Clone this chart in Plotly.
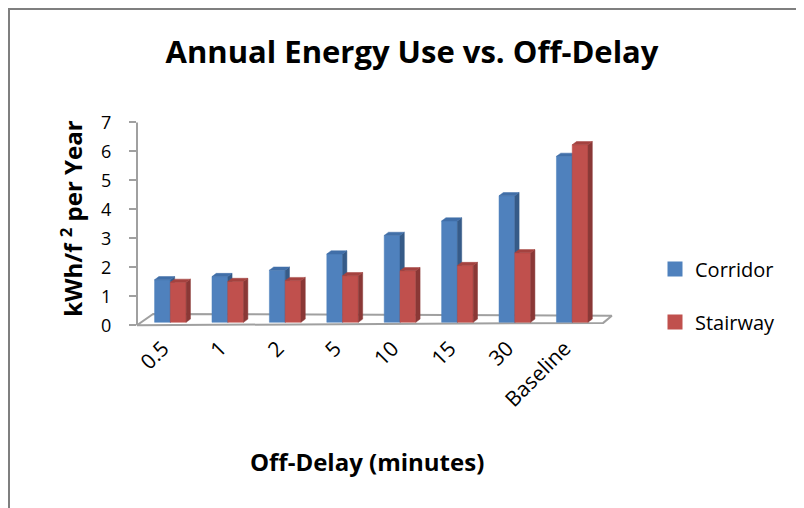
import plotly.graph_objects as go

# ---- data ----
categories = ["0.5", "1", "2", "5", "10", "15", "30", "Baseline"]
corridor = [1.47, 1.58, 1.80, 2.36, 3.00, 3.50, 4.37, 5.73]
stairway = [1.38, 1.41, 1.44, 1.61, 1.78, 1.96, 2.40, 6.13]
y_ticks = [0, 1, 2, 3, 4, 5, 6, 7]
series_names = ["Corridor", "Stairway"]

# ---- style ----
FONT = "Open Sans"
BASE = 0.10          # pseudo-3D front-face lift
BAR_W = 0.275
DX, DY = 0.075, 0.11  # depth of pseudo-3D faces
C_FRONT = ["#4F81BD", "#C0504D"]
C_SIDE = ["#365B88", "#8A3836"]
C_TOP = ["#416FA8", "#A4423F"]
OFFSETS = [-0.295, -0.02]
LABEL_SHIFT = -0.15
AXIS_GRAY = "#A0A0A0"
PAGE_OFF = 8  # default browser body margin


def faces(values, off):
    fr, sd, tp = ([], []), ([], []), ([], [])
    for i, v in enumerate(values):
        x0 = i + off
        x1 = x0 + BAR_W
        top = v + BASE
        for (xs, ys), pts in (
            (fr, [(x0, BASE), (x1, BASE), (x1, top), (x0, top)]),
            (sd, [(x1, BASE), (x1 + DX, BASE + DY), (x1 + DX, top + DY), (x1, top)]),
            (tp, [(x0, top), (x1, top), (x1 + DX, top + DY), (x0 + DX, top + DY)]),
        ):
            for px, py in pts + [pts[0]]:
                xs.append(px)
                ys.append(py)
            xs.append(None)
            ys.append(None)
    return fr, sd, tp


fig = go.Figure()

# floor
n = len(categories)
fig.add_trace(go.Scatter(
    x=[-0.601, n - 0.48, n - 0.33, -0.32, -0.601],
    y=[0.0, 0.08, 0.33, 0.39, 0.0],
    mode="lines", fill="toself", fillcolor="white",
    line=dict(color=AXIS_GRAY, width=2), hoverinfo="skip", showlegend=False))

for k, vals in enumerate([corridor, stairway]):
    fr, sd, tp = faces(vals, OFFSETS[k])
    for (xs, ys), col in ((fr, C_FRONT[k]), (sd, C_SIDE[k]), (tp, C_TOP[k])):
        fig.add_trace(go.Scatter(
            x=xs, y=ys, mode="lines", fill="toself", fillcolor=col,
            line=dict(color=col, width=0.5), hoverinfo="skip", showlegend=False))

# legend entries
for k, name in enumerate(series_names):
    fig.add_trace(go.Scatter(
        x=[None], y=[None], mode="markers", name=name, legendgroup=name,
        marker=dict(symbol="square", size=15, color=C_FRONT[k])))

# y axis line (0..7)
fig.add_shape(type="line", xref="paper", yref="y", x0=0, x1=0, y0=0, y1=7,
              line=dict(color=AXIS_GRAY, width=2))

# outer chart frame
fig.add_shape(type="rect", xref="paper", yref="paper",
              x0=(9 - 137) / 478, x1=1.8, y0=-1.5, y1=(331.5 - 9) / 210.25,
              line=dict(color="#7F7F7F", width=2), layer="below")

W, H = 804 - PAGE_OFF, 508 - PAGE_OFF
fig.update_layout(
    width=W, height=H,
    margin=dict(l=137 - PAGE_OFF, r=W - (615 - PAGE_OFF), t=121.25 - PAGE_OFF,
                b=H - (331.5 - PAGE_OFF), pad=0),
    paper_bgcolor="white", plot_bgcolor="white",
    font=dict(family=FONT, color="black"),
    title=dict(text="<b>Annual Energy Use vs. Off-Delay</b>",
               x=(412 - PAGE_OFF) / W, xref="container", xanchor="center",
               y=1 - (52 - PAGE_OFF) / H, yref="container", yanchor="middle",
               font=dict(size=31, family=FONT, color="black")),
    xaxis=dict(range=[-0.601, 7.725],
               tickvals=[i + LABEL_SHIFT for i in range(n)], ticktext=categories,
               tickangle=-45, showgrid=False, zeroline=False, showline=False,
               ticks="", tickfont=dict(size=21, family=FONT, color="black")),
    yaxis=dict(range=[-0.2, 7.05], tickvals=y_ticks, showgrid=False, zeroline=False,
               showline=False, ticks="outside", ticklen=7, tickcolor=AXIS_GRAY,
               tickwidth=2, ticklabelstandoff=14,
               tickfont=dict(size=18, family=FONT, color="black")),
    legend=dict(x=(655 - 137) / 478, xanchor="left", y=(331.5 - 250) / 210.25,
                yanchor="top", tracegroupgap=24, itemsizing="trace",
                font=dict(size=20, family=FONT, color="black"),
                bgcolor="rgba(0,0,0,0)"),
    annotations=[
        dict(text="<b>Off-Delay (minutes)</b>", xref="paper", yref="paper",
             x=(367 - 137) / 478, y=(331.5 - 462) / 210.25, showarrow=False,
             xanchor="center", yanchor="middle",
             font=dict(size=24, family=FONT, color="black")),
        dict(text="<b>kWh/f <sup>2</sup> per Year</b>", xref="paper", yref="paper",
             x=(72 - 137) / 478, y=(331.5 - 219) / 210.25, showarrow=False,
             textangle=-90, xanchor="center", yanchor="middle",
             font=dict(size=24, family=FONT, color="black")),
    ],
    showlegend=True,
)

fig.write_html("out.html")
